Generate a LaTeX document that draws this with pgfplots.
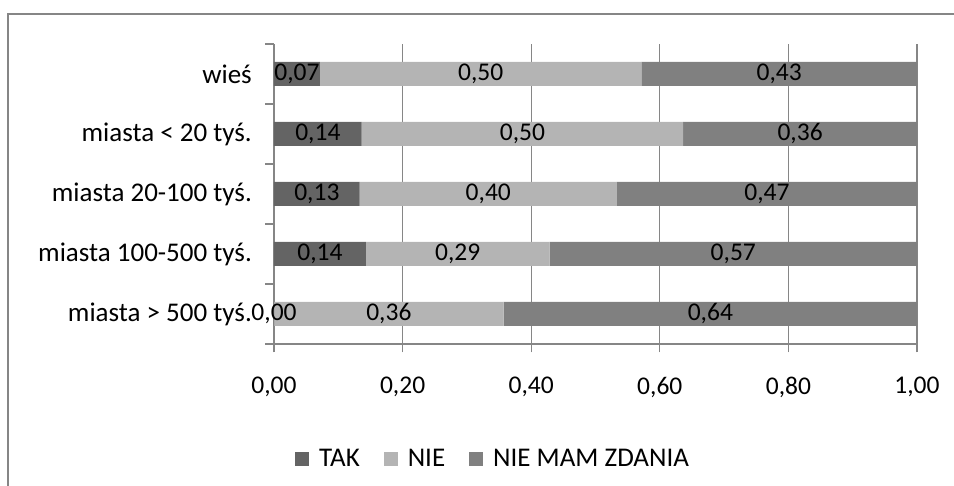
\documentclass[border=0pt]{standalone}
\usepackage{fontspec}
\setmainfont{Carlito}
\usepackage{pgfplots}
\pgfplotsset{compat=1.18}
\definecolor{takc}{HTML}{646464}
\definecolor{niec}{HTML}{B4B4B4}
\definecolor{nmzc}{HTML}{808080}
\definecolor{axgray}{HTML}{868686}
\newcommand{\cf}{\fontsize{25.5pt}{30pt}\selectfont}
\newcommand{\cfl}{\fontsize{27pt}{32pt}\selectfont}

\begin{document}
\begin{tikzpicture}[x=1pt,y=1pt]
% ramka wykresu (przycięta)
\draw[color=axgray, line width=2.5pt] (8,-20) -- (8,472) -- (980,472);
\begin{axis}[
    at={(274pt,142pt)}, anchor=south west,
    scale only axis,
    width=643pt, height=300pt,
    xbar stacked,
    bar width=24pt,
    xmin=0, xmax=1,
    ymin=-0.5, ymax=4.5,
    xtick={0,0.2,0.4,0.6,0.8,1},
    ytick={-0.5,0.5,1.5,2.5,3.5,4.5},
    yticklabels={},
    extra y ticks={0,1,2,3,4},
    extra y tick labels={miasta > 500 tyś.,miasta 100-500 tyś.,miasta 20-100 tyś.,miasta < 20 tyś.,wieś},
    extra y tick style={major tick length=0pt},
    axis x line*=bottom, axis y line*=left,
    axis line style={-, color=axgray, line width=1.2pt},
    tick align=outside,
    major tick length=8.5pt,
    tick style={color=axgray, line width=1.2pt},
    xmajorgrids,
    grid style={color=axgray, line width=1.2pt},
    clip=false,
    /pgf/number format/assume math mode=true,
    xticklabel style={font=\cf, yshift=-21pt, /pgf/number format/.cd, fixed, fixed zerofill, precision=2, use comma},
    yticklabel style={font=\cfl, inner sep=0pt, xshift=-22pt},
    visualization depends on={rawx \as \rawx},
    nodes near coords={\pgfmathprintnumber[fixed, fixed zerofill, precision=2, use comma, assume math mode=true]{\rawx}},
    every node near coord/.append style={font=\cf, text=black},
    legend columns=3,
    legend style={at={(axis description cs:0.3406,-0.3833)}, anchor=center,
        draw=none, fill=none, font=\cfl,
        /tikz/every even column/.append style={column sep=22pt},
        /tikz/every odd column/.append style={column sep=8pt}},
    legend image code/.code={\fill[#1] (0pt,-7pt) rectangle (14pt,7pt);},
]
\addplot[fill=takc, draw=none] coordinates {(0.0001,0) (0.1429,1) (0.1333,2) (0.1364,3) (0.0714,4)};
\addplot[fill=niec, draw=none] coordinates {(0.3571,0) (0.2857,1) (0.4,2) (0.5,3) (0.5,4)};
\addplot[fill=nmzc, draw=none] coordinates {(0.6428,0) (0.5714,1) (0.4667,2) (0.3636,3) (0.4286,4)};
\legend{TAK, NIE, NIE MAM ZDANIA}
\end{axis}
\pgfresetboundingbox
\useasboundingbox (0,0) rectangle (954,486);
\end{tikzpicture}
\end{document}
